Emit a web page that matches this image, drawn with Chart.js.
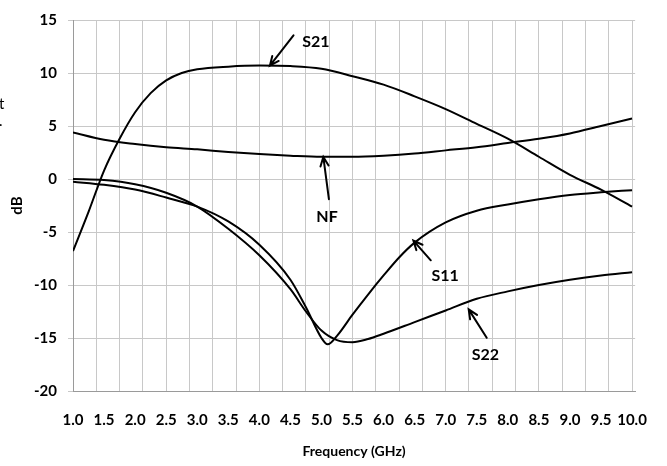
<!DOCTYPE html>
<html>
<head>
<meta charset="utf-8">
<script src="https://cdn.jsdelivr.net/npm/chart.js@4.4.1/dist/chart.umd.min.js"></script>
<style>
html, body { margin: 0; padding: 0; background: #fff; }
#wrap { width: 667px; height: 466px; position: relative; }
</style>
</head>
<body>
<div id="wrap"><canvas id="chart"></canvas></div>
<script>
const FONT = 'Lato, "Liberation Sans", sans-serif';

// x axis labels (GHz)
const xTickLabels = [1.0, 1.5, 2.0, 2.5, 3.0, 3.5, 4.0, 4.5, 5.0, 5.5, 6.0, 6.5, 7.0, 7.5, 8.0, 8.5, 9.0, 9.5, 10.0];

// S21
const s21Freq = [1.0, 1.25, 1.5, 1.75, 2.0, 2.25, 2.5, 2.75, 3.0, 3.5, 4.0, 4.5, 5.0, 5.5, 6.0, 6.5, 7.0, 7.5, 8.0, 8.5, 9.0, 9.5, 10.0];
const s21Db = [-6.8, -3.1, 0.8, 3.8, 6.3, 8.1, 9.3, 10.0, 10.35, 10.6, 10.7, 10.65, 10.4, 9.7, 8.9, 7.8, 6.6, 5.2, 3.8, 2.1, 0.4, -1.0, -2.6];

// NF
const nfFreq = [1.0, 1.5, 2.0, 2.5, 3.0, 3.5, 4.0, 4.5, 5.0, 5.5, 6.0, 6.5, 7.0, 7.5, 8.0, 8.5, 9.0, 9.5, 10.0];
const nfDb = [4.4, 3.7, 3.3, 3.0, 2.8, 2.55, 2.35, 2.2, 2.1, 2.1, 2.2, 2.4, 2.7, 3.0, 3.4, 3.8, 4.3, 5.0, 5.7];

// S11
const s11Freq = [1.0, 1.5, 2.0, 2.5, 3.0, 3.5, 4.0, 4.5, 4.75, 5.0, 5.1, 5.25, 5.5, 5.75, 6.0, 6.25, 6.5, 7.0, 7.5, 8.0, 8.5, 9.0, 9.5, 10.0];
const s11Db = [-0.25, -0.55, -1.0, -1.75, -2.6, -4.0, -6.2, -9.5, -12.1, -15.0, -15.6, -14.8, -12.8, -10.9, -9.1, -7.4, -6.0, -4.1, -3.0, -2.4, -1.9, -1.5, -1.25, -1.05];

// S22
const s22Freq = [1.0, 1.5, 2.0, 2.5, 3.0, 3.5, 4.0, 4.5, 4.75, 5.0, 5.25, 5.5, 5.75, 6.0, 6.5, 7.0, 7.5, 8.0, 8.5, 9.0, 9.5, 10.0];
const s22Db = [0.0, -0.1, -0.5, -1.3, -2.6, -4.7, -7.2, -10.4, -12.5, -14.3, -15.2, -15.4, -15.1, -14.6, -13.5, -12.4, -11.3, -10.6, -10.0, -9.5, -9.1, -8.8];

// curve labels with arrows, in data units (GHz, dB)
const callouts = [
    { text: 'S21', at: [4.91, 12.92], from: [4.55, 13.56], to: [4.17, 10.69] },
    { text: 'NF',  at: [5.09, -3.56], from: [5.12, -1.90], to: [5.03, 2.08] },
    { text: 'S11', at: [6.99, -9.12], from: [6.76, -7.67], to: [6.48, -5.81] },
    { text: 'S22', at: [7.64, -16.6], from: [7.66, -14.98], to: [7.37, -12.3] }
];

function toPoints(xs, ys) {
    return xs.map((x, i) => ({ x: x, y: ys[i] }));
}

function lineSet(label, xs, ys) {
    return {
        label: label,
        data: toPoints(xs, ys),
        borderColor: '#000',
        borderWidth: 2,
        pointRadius: 0,
        fill: false,
        cubicInterpolationMode: 'monotone'
    };
}

// arrows + labels + the clipped bits of text at the left edge
const calloutPlugin = {
    id: 'callouts',
    afterDatasetsDraw(chart) {
        const ctx = chart.ctx;
        const xs = chart.scales.x;
        const ys = chart.scales.y;
        ctx.save();
        ctx.strokeStyle = '#000';
        ctx.fillStyle = '#000';
        ctx.lineWidth = 2;
        ctx.lineCap = 'round';
        callouts.forEach(c => {
            const x1 = xs.getPixelForValue(c.from[0]), y1 = ys.getPixelForValue(c.from[1]);
            const x2 = xs.getPixelForValue(c.to[0]), y2 = ys.getPixelForValue(c.to[1]);
            ctx.beginPath();
            ctx.moveTo(x1, y1);
            ctx.lineTo(x2, y2);
            const a = Math.atan2(y2 - y1, x2 - x1);
            const head = 10, spread = 0.42;
            ctx.moveTo(x2 - head * Math.cos(a - spread), y2 - head * Math.sin(a - spread));
            ctx.lineTo(x2, y2);
            ctx.lineTo(x2 - head * Math.cos(a + spread), y2 - head * Math.sin(a + spread));
            ctx.stroke();
            ctx.font = 'bold 16px ' + FONT;
            ctx.textAlign = 'center';
            ctx.textBaseline = 'middle';
            ctx.fillText(c.text, xs.getPixelForValue(c.at[0]), ys.getPixelForValue(c.at[1]));
        });
        ctx.font = '15px ' + FONT;
        ctx.textAlign = 'left';
        ctx.textBaseline = 'middle';
        ctx.fillText('t', -1, 104);
        ctx.fillText('.', -1, 121);
        ctx.restore();
    }
};

Chart.defaults.font.family = FONT;
Chart.defaults.color = '#000';

new Chart(document.getElementById('chart').getContext('2d'), {
    type: 'line',
    data: {
        datasets: [
            lineSet('S21', s21Freq, s21Db),
            lineSet('NF', nfFreq, nfDb),
            lineSet('S11', s11Freq, s11Db),
            lineSet('S22', s22Freq, s22Db)
        ]
    },
    options: {
        responsive: true,
        maintainAspectRatio: false,
        animation: false,
        layout: { padding: { top: 13, right: 23, left: 0, bottom: 0 } },
        plugins: {
            legend: { display: false },
            tooltip: { enabled: false }
        },
        scales: {
            x: {
                type: 'linear',
                position: 'bottom',
                min: 1,
                max: 10.05,
                afterBuildTicks: s => { s.ticks = xTickLabels.map(v => ({ value: v })); },
                afterFit: s => { s.height = 75; },
                ticks: {
                    autoSkip: false,
                    maxRotation: 0,
                    padding: 20,
                    font: { size: 15, weight: 'bold' },
                    callback: v => Number(v).toFixed(1)
                },
                grid: { display: false, drawTicks: false },
                border: { display: true, color: '#9a9a9a', width: 1 },
                title: {
                    display: true,
                    text: 'Frequency (GHz)',
                    font: { size: 14, weight: 'bold' },
                    padding: { top: 0, bottom: 6 }
                }
            },
            xg: {
                type: 'linear',
                position: 'bottom',
                min: 1,
                max: 10.05,
                afterBuildTicks: s => {
                    const t = [];
                    for (let k = 1; k <= 24; k++) t.push({ value: 1 + k * 0.375 });
                    s.ticks = t;
                },
                afterFit: s => { s.height = 0; },
                ticks: { display: false },
                grid: { color: '#c8c8c8', lineWidth: 1, drawTicks: false },
                border: { display: false }
            },
            y: {
                min: -20,
                max: 15,
                afterFit: s => { s.width = 73; },
                ticks: {
                    stepSize: 5,
                    padding: 11,
                    font: { size: 15, weight: 'bold' }
                },
                grid: { color: '#c8c8c8', lineWidth: 1, tickLength: 5 },
                border: { display: true, color: '#9a9a9a', width: 1 },
                title: {
                    display: true,
                    text: 'dB',
                    font: { size: 15, weight: 'bold' },
                    padding: { top: 8, bottom: 0 }
                }
            }
        }
    },
    plugins: [calloutPlugin]
});
</script>
</body>
</html>
